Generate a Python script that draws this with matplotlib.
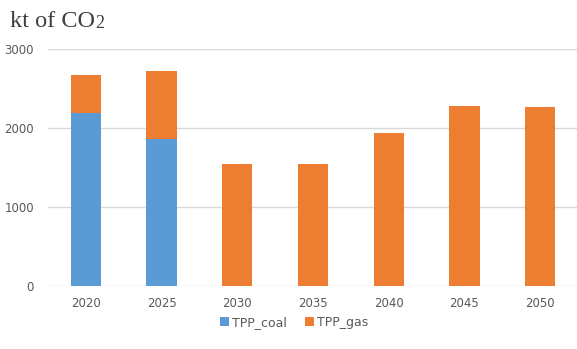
import matplotlib.pyplot as plt
import numpy as np

years = ['2020', '2025', '2030', '2035', '2040', '2045', '2050']
tpp_coal = [2200, 1860, 0, 0, 0, 0, 0]
tpp_gas = [470, 865, 1545, 1545, 1940, 2280, 2275]

blue = '#5B9BD5'
orange = '#ED7D31'
grey = '#595959'

fig = plt.figure(figsize=(5.77, 3.49), dpi=100)
ax = fig.add_axes([0.0832, 0.1797, 0.9185, 0.679])

x = np.arange(len(years))
ax.bar(x, tpp_coal, width=0.4, color=blue, label='TPP_coal', zorder=3)
ax.bar(x, tpp_gas, width=0.4, bottom=tpp_coal, color=orange, label='TPP_gas', zorder=3)

ax.set_xlim(-0.5, len(years) - 0.5)
ax.set_ylim(0, 3000)
ax.set_yticks([0, 1000, 2000, 3000])
ax.set_xticks(x)
ax.set_xticklabels(years)
ax.grid(axis='y', color='#D9D9D9', linewidth=1, zorder=0)
for s in ax.spines.values():
    s.set_visible(False)
ax.tick_params(axis='both', length=0, labelsize=8.5, colors=grey)
ax.tick_params(axis='y', pad=10)
ax.tick_params(axis='x', pad=8)

# unit label with a small "2"
t = fig.text(0.017, 0.924, 'kt of CO', family='Liberation Serif', fontsize=17.5,
             color='#404040', va='baseline')
ax.annotate('2', xy=(1, 0), xycoords=t, family='Liberation Serif', fontsize=13,
            color='#404040', va='bottom', ha='left', annotation_clip=False)

fig.legend(loc='center', bbox_to_anchor=(0.51, 0.077), ncol=2, frameon=False,
           fontsize=9, handlelength=0.7, handleheight=0.7, handletextpad=0.3,
           columnspacing=1.4, labelcolor=grey)

fig.savefig('out.png', dpi=100)
